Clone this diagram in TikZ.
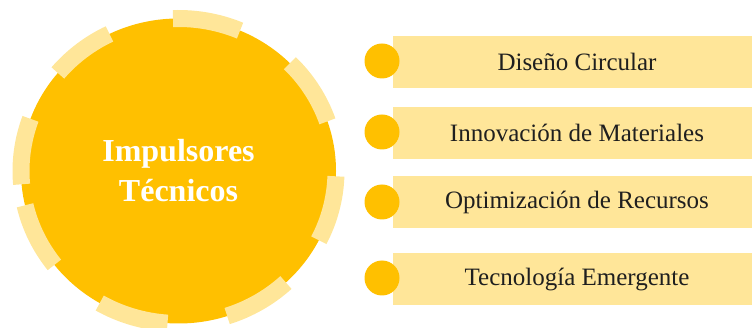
\documentclass[tikz,border=0pt]{standalone}
\usepackage{fontspec}
\setmainfont{Liberation Serif}
\usetikzlibrary{shapes.geometric,calc}
\definecolor{gold}{HTML}{FFC000}
\definecolor{paleGold}{HTML}{FFE699}
\definecolor{itemText}{HTML}{1F1F1F}
\tikzset{
  hubnode/.style={ellipse, fill=gold, minimum width=315pt, minimum height=305pt, inner sep=0pt,
    text=white, align=center, font=\fontsize{32}{40}\selectfont\bfseries},
  ringdash/.style={draw=paleGold, line width=17pt, line cap=butt},
  itembar/.style={rectangle, fill=paleGold, minimum width=368pt, minimum height=52pt, inner sep=0pt,
    text=itemText, font=\fontsize{25}{30}\selectfont},
  itemdot/.style={circle, fill=gold, minimum size=35pt, inner sep=0pt}
}
\begin{document}
\begin{tikzpicture}[x=1pt,y=1pt]
\useasboundingbox (0,0) rectangle (752,-328);
% hub
\node[hubnode] (hub) at (178.5,-171) {Impulsores\\Técnicos};
\foreach \a/\b in {67/92, 116/140, 160/185, 193/218, 240/266, 288/313, 333/358, 19/45}{
  \draw[ringdash] ($(hub.center)+(\a:157.5 and 152.5)$) arc[start angle=\a, end angle=\b, x radius=157.5, y radius=152.5];
}
% items
\node[itembar] (bar1) at (577,-62) {Diseño Circular};
\node[itembar] (bar2) at (577,-133) {Innovación de Materiales};
\node[itembar] (bar3) at (577,-202) {Optimización de Recursos};
\node[itembar] (bar4) at (577,-279.5) {Tecnología Emergente};
\node[itemdot] (dot1) at (382,-61) {};
\node[itemdot] (dot2) at (382,-132) {};
\node[itemdot] (dot3) at (382,-202) {};
\node[itemdot] (dot4) at (382,-278) {};
\end{tikzpicture}
\end{document}
